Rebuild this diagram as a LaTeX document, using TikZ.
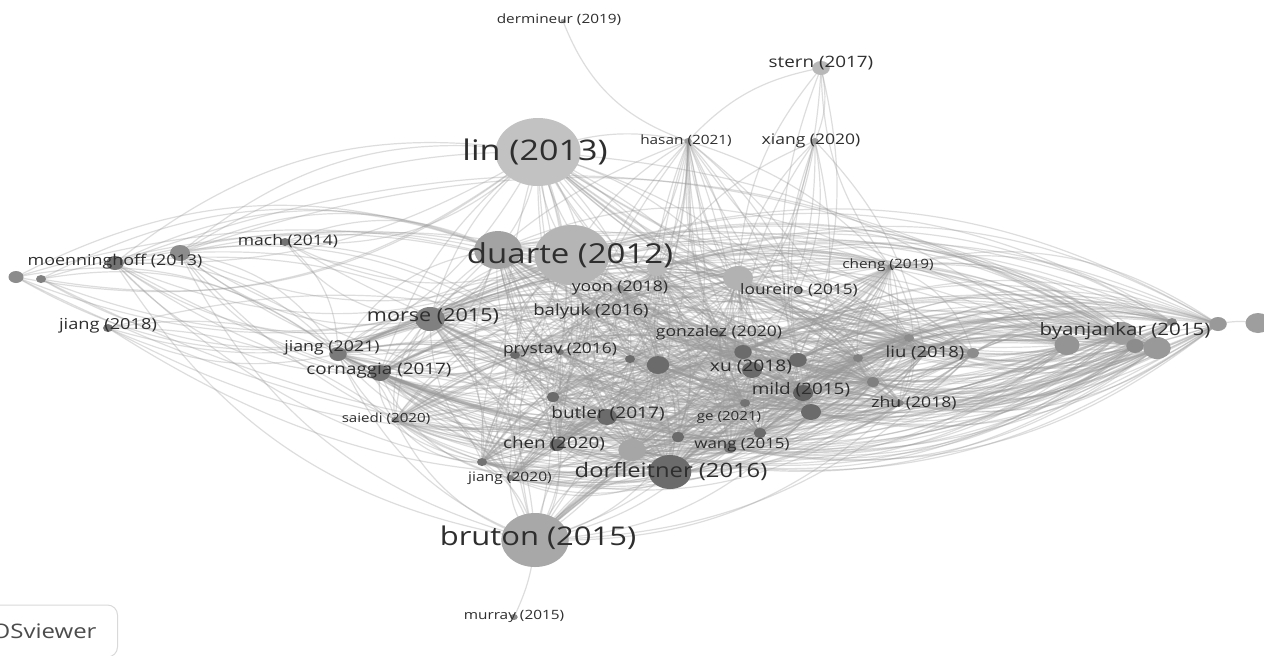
\documentclass[tikz,border=0pt]{standalone}
\usepackage{fontspec}
\setmainfont{Open Sans}[FakeStretch=1.2]
\usetikzlibrary{shapes.geometric}
\pgfdeclarelayer{edges}
\pgfsetlayers{edges,main}
% one drawing unit is half a point
\tikzset{
  pub/.style 2 args={ellipse, inner sep=0pt, draw=none,
    minimum height=#1pt, minimum width=1.25*#1pt, fill=black!#2},
  lbl/.style={text=black!82, inner sep=0pt, font=\fontsize{#1}{#1}\selectfont},
  link/.style={draw=black!40, line width=0.6pt, opacity=0.33},
}
% one source publication linked to a list of others, curving alternately
\newcommand\linkfan[3]{%
  \foreach \b [count=\j] in {#2}{%
    \pgfmathsetmacro\bnd{mod(\j,2)==0 ? #3 : -#3}%
    \draw[link] (#1.center) to[bend left=\bnd] (\b.center);
  }}
\def\corelist{duarte,d2,d3,morse,jiangB,cornaggia,yoon,balyuk,gonzalez,c0,prystav,cp,xu,mild,butler,chen,wang,ge,dorf,c1,c2,c3,c4,c6,c7,c8,c9,c11,c12,c15,saiedi,c13,jiangC,liu,zhu,c10,c14,cheng}
\begin{document}
\begin{tikzpicture}[x=0.5pt,y=-0.5pt]
\useasboundingbox (0,0) rectangle (1264,655);

% ---- publications (ellipses) ----
\node[pub={34}{24}] (lin) at (538,152) {};
\node[pub={30}{29}] (duarte) at (572,255) {};
\node[pub={19}{36}] (d2) at (498,250) {};
\node[pub={8}{28}] (d3) at (657,268) {};
\node[pub={27}{34}] (bruton) at (535,540) {};
\node[pub={17}{58}] (dorf) at (670,472) {};
\node[pub={12}{50}] (morse) at (430,319) {};
\node[pub={11}{38}] (byan) at (1122,333) {};
\node[pub={10}{42}] (b1) at (1067,345) {};
\node[pub={7}{45}] (b2) at (1135,346) {};
\node[pub={11}{40}] (b3) at (1157,348) {};
\node[pub={7}{40}] (b4) at (1218,324) {};
\node[pub={10}{38}] (b5) at (1258,323) {};
\node[pub={4}{45}] (b6) at (1172,322) {};
\node[pub={7}{55}] (moenn) at (115,263) {};
\node[pub={8}{45}] (m1) at (180,253) {};
\node[pub={6}{45}] (m3) at (16,277) {};
\node[pub={4}{50}] (m4) at (41,279) {};
\node[pub={4}{55}] (mach) at (285,242) {};
\node[pub={7}{28}] (stern) at (821,68) {};
\node[pub={3}{40}] (xiang) at (815,141) {};
\node[pub={3}{40}] (hasan) at (688,141) {};
\node[pub={2}{40}] (dermineur) at (563,21) {};
\node[pub={3}{45}] (cheng) at (891,267) {};
\node[pub={3}{45}] (loureiro) at (799,290) {};
\node[pub={12}{30}] (c15) at (738,278) {};
\node[pub={3}{45}] (yoon) at (620,288) {};
\node[pub={3}{45}] (balyuk) at (590,312) {};
\node[pub={3}{55}] (gonzalez) at (720,334) {};
\node[pub={7}{58}] (c0) at (743,352) {};
\node[pub={3}{55}] (prystav) at (560,352) {};
\node[pub={4}{58}] (cp) at (515,355) {};
\node[pub={8}{58}] (xu) at (752,370) {};
\node[pub={8}{62}] (mild) at (803,393) {};
\node[pub={3}{50}] (liu) at (925,353) {};
\node[pub={5}{45}] (c14) at (973,353) {};
\node[pub={3}{50}] (zhu) at (900,403) {};
\node[pub={4}{55}] (jiangA) at (108,328) {};
\node[pub={7}{52}] (jiangB) at (338,354) {};
\node[pub={8}{55}] (cornaggia) at (380,373) {};
\node[pub={3}{50}] (saiedi) at (395,420) {};
\node[pub={8}{58}] (butler) at (607,417) {};
\node[pub={4}{55}] (ge) at (745,403) {};
\node[pub={6}{60}] (chen) at (557,445) {};
\node[pub={5}{55}] (wang) at (730,448) {};
\node[pub={3}{50}] (jiangC) at (510,478) {};
\node[pub={4}{55}] (c13) at (482,462) {};
\node[pub={3}{45}] (murray) at (514,617) {};
\node[pub={4}{58}] (c1) at (630,359) {};
\node[pub={9}{58}] (c2) at (658,365) {};
\node[pub={7}{58}] (c3) at (798,360) {};
\node[pub={5}{58}] (c4) at (553,397) {};
\node[pub={8}{58}] (c6) at (811,412) {};
\node[pub={5}{58}] (c7) at (678,437) {};
\node[pub={5}{58}] (c8) at (760,433) {};
\node[pub={11}{35}] (c9) at (632,450) {};
\node[pub={4}{45}] (c10) at (909,338) {};
\node[pub={4}{50}] (c11) at (858,358) {};
\node[pub={5}{50}] (c12) at (873,382) {};

% ---- citation links ----
\begin{pgfonlayer}{edges}
\fill[white] (0,0) rectangle (1264,655);
% dense core
\foreach \a [count=\i] in \corelist {
  \foreach \b [count=\j] in \corelist {
    \ifnum\j>\i
      \pgfmathsetmacro\bnd{mod(\i+\j,2)==0 ? 26 : -26}
      \draw[link] (\a.center) to[bend left=\bnd] (\b.center);
    \fi
  }
}
% hubs and outlying groups
\linkfan{lin}{duarte,d2,morse,jiangB,cornaggia,balyuk,yoon,gonzalez,c0,prystav,xu,mild,butler,chen,dorf,c2,c3,c4,c9,c15,liu,c11,bruton,hasan,m1,moenn,byan,b1,b3}{16}
\linkfan{hasan}{duarte,d3,balyuk,yoon,gonzalez,c0,xu,c1,c2,c3,mild,butler,ge,wang,dorf,c7,c8,c9,c15,loureiro,chen,cheng,liu,c11,c12,bruton,morse}{14}
\linkfan{xiang}{c0,xu,c3,mild,c15,loureiro,d3,gonzalez,c6,liu}{16}
\linkfan{stern}{hasan,xiang,c15,c3,mild,gonzalez,cheng}{18}
\linkfan{dermineur}{hasan}{25}
\foreach \r in {byan,b1,b2,b3,b4,b6}{
  \linkfan{\r}{duarte,d2,d3,morse,jiangB,cornaggia,balyuk,gonzalez,c0,xu,mild,butler,chen,wang,dorf,c2,c3,c6,c8,c9,c11,c12,c14,c10,liu,zhu,cheng,c15,bruton,lin}{24}
}
\linkfan{b5}{b4}{10}
\foreach \l in {m1,moenn}{
  \linkfan{\l}{duarte,d2,morse,jiangB,cornaggia,lin,dorf,butler,c2,xu,bruton,byan,b3,prystav}{24}
}
\foreach \l in {m3,m4,mach}{
  \linkfan{\l}{duarte,d2,morse,jiangB,lin,xu,byan}{24}
}
\linkfan{jiangA}{jiangB,cornaggia,morse,c2,butler,saiedi,dorf}{18}
\linkfan{bruton}{morse,jiangB,cornaggia,saiedi,c13,jiangC,chen,butler,c4,c9,c2,dorf,c7,wang,ge,c8,xu,mild,c6,c12,zhu,liu,c14,duarte,d2}{22}
\linkfan{murray}{bruton}{10}
\end{pgfonlayer}

% ---- labels ----
\node[lbl=14.2] (t-lin) at (535,152) {lin (2013)};
\node[lbl=13.75] (t-duarte) at (570,255) {duarte (2012)};
\node[lbl=12.9] (t-bruton) at (538,538) {bruton (2015)};
\node[lbl=9.9] (t-dorf) at (671,471) {dorfleitner (2016)};
\node[lbl=9] (t-morse) at (433,316) {morse (2015)};
\node[lbl=8.55] (t-byan) at (1125,331) {byanjankar (2015)};
\node[lbl=7.45] (t-moenn) at (115,262) {moenninghoff (2013)};
\node[lbl=7.3] (t-mach) at (288,241) {mach (2014)};
\node[lbl=7.85] (t-stern) at (821,63) {stern (2017)};
\node[lbl=7.3] (t-xiang) at (811,141) {xiang (2020)};
\node[lbl=6.4] (t-hasan) at (686,141) {hasan (2021)};
\node[lbl=6.4] (t-dermineur) at (559,20) {dermineur (2019)};
\node[lbl=6.4] (t-cheng) at (888,265) {cheng (2019)};
\node[lbl=7.2] (t-loureiro) at (799,290) {loureiro (2015)};
\node[lbl=7.35] (t-yoon) at (620,288) {yoon (2018)};
\node[lbl=7.75] (t-balyuk) at (591,311) {balyuk (2016)};
\node[lbl=7.3] (t-gonzalez) at (719,333) {gonzalez (2020)};
\node[lbl=7.25] (t-prystav) at (560,350) {prystav (2016)};
\node[lbl=8] (t-xu) at (751,367) {xu (2018)};
\node[lbl=7.7] (t-liu) at (925,353) {liu (2018)};
\node[lbl=7.9] (t-mild) at (801,390) {mild (2015)};
\node[lbl=7.35] (t-zhu) at (914,403) {zhu (2018)};
\node[lbl=7.6] (t-jiangA) at (108,326) {jiang (2018)};
\node[lbl=7.4] (t-jiangB) at (332,348) {jiang (2021)};
\node[lbl=7.85] (t-cornaggia) at (379,371) {cornaggia (2017)};
\node[lbl=6.3] (t-saiedi) at (386,419) {saiedi (2020)};
\node[lbl=7.95] (t-butler) at (608,414) {butler (2017)};
\node[lbl=6.3] (t-ge) at (729,417) {ge (2021)};
\node[lbl=7.85] (t-chen) at (554,444) {chen (2020)};
\node[lbl=7.05] (t-wang) at (742,445) {wang (2015)};
\node[lbl=6.5] (t-jiangC) at (510,478) {jiang (2020)};
\node[lbl=6.4] (t-murray) at (514,616) {murray (2015)};

% ---- software badge ----
\node[draw=black!15, line width=0.5pt, rounded corners=5pt, text=black!70,
  font=\fontsize{10}{10}\selectfont, minimum height=26pt, inner xsep=10.5pt,
  anchor=east] (logo) at (118,631) {VOSviewer};
\end{tikzpicture}
\end{document}
